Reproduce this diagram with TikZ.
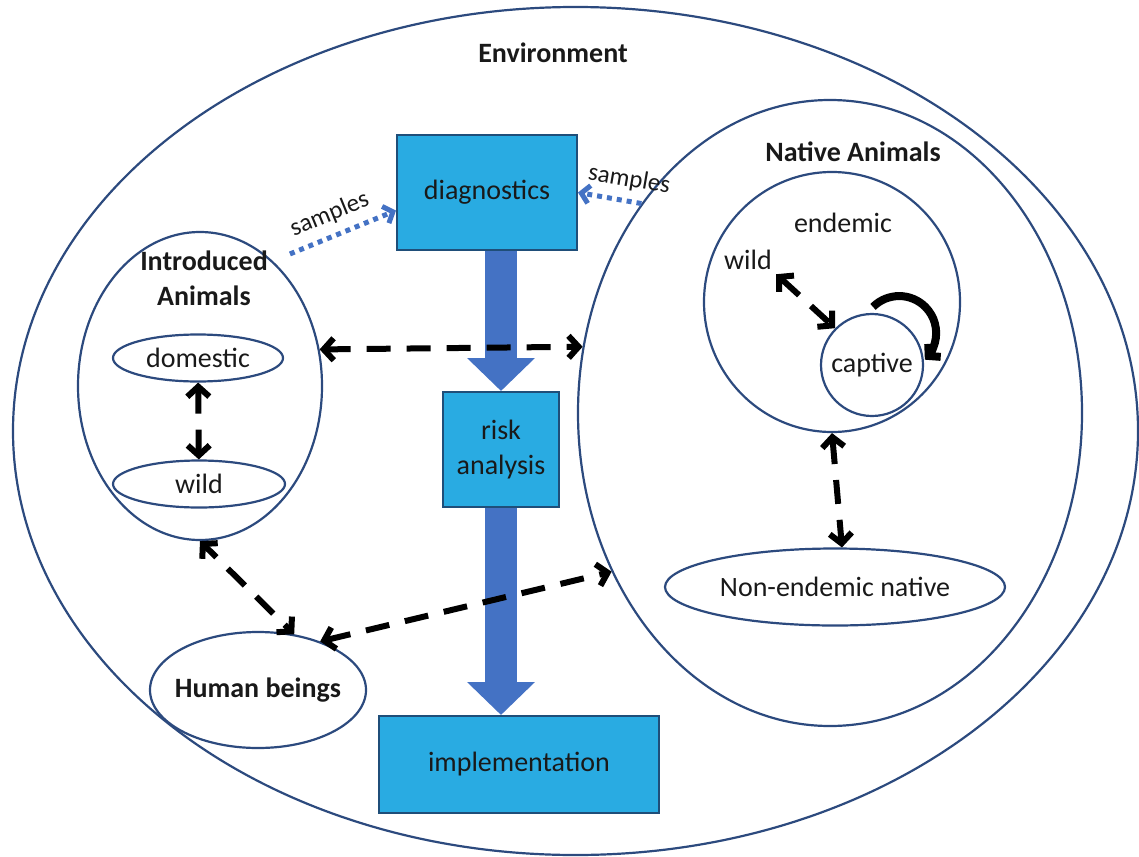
\documentclass[tikz,border=0pt]{standalone}
\usepackage{fontspec}
\setmainfont{Carlito}
\usetikzlibrary{shapes.geometric,arrows.meta,positioning}

\definecolor{edgeblue}{RGB}{44,74,126}
\definecolor{boxfill}{RGB}{41,171,226}
\definecolor{boxline}{RGB}{31,78,121}
\definecolor{flowblue}{RGB}{68,114,196}

\begin{document}
\begin{tikzpicture}[
    x=0.5pt, y=0.5pt,
    every node/.style={font=\fontsize{14}{17.5}\selectfont, text=black!90},
    region/.style={ellipse, draw=edgeblue, line width=1.1pt, inner sep=0pt},
    heading/.style={font=\fontsize{14}{17.5}\selectfont\bfseries},
    stagebox/.style={rectangle, draw=boxline, line width=1pt, fill=boxfill, inner sep=0pt},
    flow/.style={draw=flowblue, line width=16pt, -{Triangle[width=33pt, length=16.5pt]}},
    link/.style={draw=black, line width=3pt, dash pattern=on 12pt off 8pt,
        {Straight Barb[length=5pt, width=11pt]}-{Straight Barb[length=5pt, width=11pt]}},
    selfloop/.style={draw=black, line width=4pt, -{Straight Barb[length=4pt, width=9pt]}},
    sampleflow/.style={draw=flowblue, line width=2.5pt, dash pattern=on 2.5pt off 2.5pt,
        -{Straight Barb[length=4pt, width=9pt]}},
    samplelbl/.style={font=\fontsize{12.5}{15}\selectfont, above=3pt, sloped, inner sep=1pt}
]
    \useasboundingbox (0,0) rectangle (1139,-856);

    % --- ENVIRONMENT ---
    \node[region, minimum width=562.5pt, minimum height=424pt] (env) at (575.5,-431) {};
    \node[heading] (envlbl) at (553,-53) {Environment};

    % --- NATIVE ANIMALS ---
    \node[region, minimum width=252pt, minimum height=313pt] (native) at (830,-413) {};
    \node[heading] (nativelbl) at (853,-152) {Native Animals};
    \node[region, minimum width=128pt, minimum height=130pt] (endemic) at (832,-302) {};
    \node (endemiclbl) at (843,-223) {endemic};
    \node[inner sep=2pt] (wildE) at (748,-260) {wild};
    \node[region, circle, minimum size=51pt] (captive) at (872,-365) {captive};
    \node[region, minimum width=170pt, minimum height=38.5pt] (nonend) at (835,-587) {Non-endemic native};

    % --- INTRODUCED ANIMALS AND HUMANS ---
    \node[region, minimum width=122pt, minimum height=154pt] (intro) at (200,-386) {};
    \node[heading, align=center, inner sep=1pt] (introlbl) at (204,-278) {Introduced\\Animals};
    \node[region, minimum width=85pt, minimum height=23.5pt] (dom) at (198,-358) {domestic};
    \node[region, minimum width=86pt, minimum height=23.5pt] (wildI) at (199,-484) {wild};
    \node[region, minimum width=108pt, minimum height=58pt,
          label={[heading]center:Human beings}] (human) at (258,-690) {};

    % --- WORKFLOW BOXES ---
    \node[stagebox, minimum width=90pt, minimum height=57.5pt] (diag) at (487,-192.5) {diagnostics};
    \node[stagebox, minimum width=58pt, minimum height=57.5pt, align=center] (risk) at (501,-449.5) {risk\\analysis};
    \node[stagebox, minimum width=140pt, minimum height=48.5pt] (impl) at (519,-764.5) {implementation};

    \draw[flow] (diag.south -| risk.north) -- (risk.north);
    \draw[flow] (risk.south) -- (impl.north -| risk.south);

    % --- CONTACTS ---
    \draw[link] (intro.17) -- (native.165);
    \draw[link] (dom) -- (wildI);
    \draw[link, dash phase=4pt] (intro.south) -- (human.57);
    \draw[link] (human.38) -- (native.216);
    \draw[link] (endemic.south) -- (nonend.80);
    \draw[link] (wildE.south east) -- (captive.135);
    \draw[selfloop] ([shift={(1,6)}]captive.north) arc[start angle=135, end angle=-46, radius=18.5pt];

    % --- SAMPLES ---
    \draw[sampleflow] ([shift={(12,12)}]intro.57) -- ([yshift=-9pt]diag.west) node[samplelbl, pos=0.45] {samples};
    \draw[sampleflow] (native.132) -- (diag.east) node[samplelbl, pos=0.25] {samples};
\end{tikzpicture}
\end{document}
